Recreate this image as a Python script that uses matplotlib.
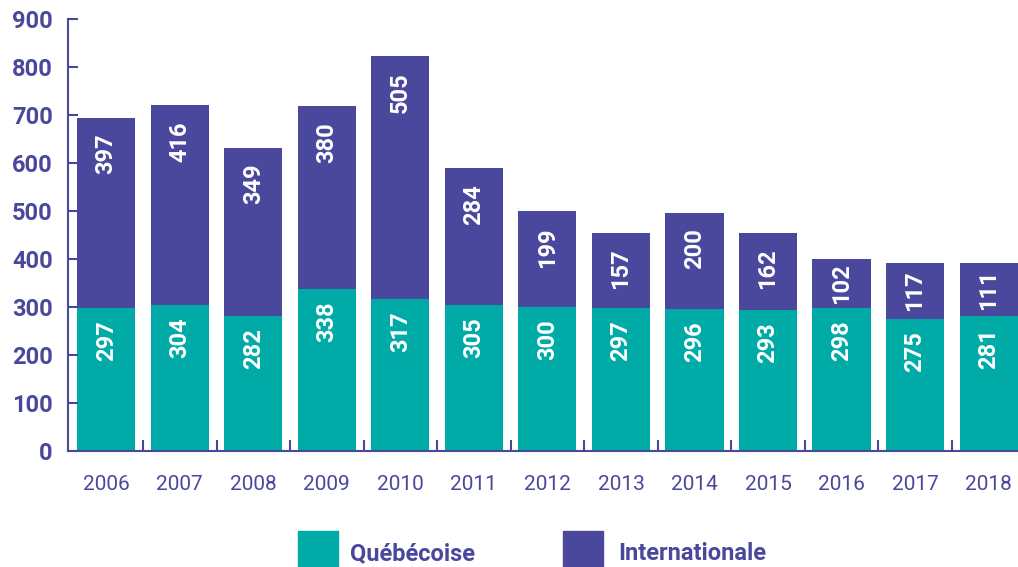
import matplotlib
matplotlib.use("Agg")
import matplotlib.pyplot as plt
from matplotlib.patches import Rectangle

years = ["2006", "2007", "2008", "2009", "2010", "2011", "2012",
         "2013", "2014", "2015", "2016", "2017", "2018"]
quebecoise = [297, 304, 282, 338, 317, 305, 300, 297, 296, 293, 298, 275, 281]
internationale = [397, 416, 349, 380, 505, 284, 199, 157, 200, 162, 102, 117, 111]

teal = "#00AAA6"
purple = "#4A489C"
plt.rcParams['font.family'] = ['Roboto', 'DejaVu Sans']

fig = plt.figure(figsize=(10.18, 5.67), dpi=100)
ax = fig.add_axes([68 / 1018, 1 - 451 / 567, 1 - 68 / 1018, (451 - 19) / 567])

x = range(len(years))
w = 0.79
ax.bar(x, quebecoise, width=w, color=teal)
ax.bar(x, internationale, width=w, bottom=quebecoise, color=purple)

# labels sit near the top of each segment (centred when the segment is short)
for i in x:
    q = quebecoise[i]
    n = internationale[i]
    ax.text(i, q - min(q / 2, 68), str(q), rotation=90, ha='center',
            va='center', color='white', fontsize=17, fontweight='bold')
    ax.text(i, q + n - min(n / 2, 75), str(n), rotation=90, ha='center',
            va='center', color='white', fontsize=17, fontweight='bold')

ax.set_xlim(-0.52, 12.4)
ax.set_ylim(0, 900)
for s in ['top', 'right']:
    ax.spines[s].set_visible(False)
for s in ['left', 'bottom']:
    ax.spines[s].set_color(purple)
    ax.spines[s].set_linewidth(1.5)

ax.set_yticks(range(0, 901, 100))
ax.tick_params(axis='y', direction='in', length=7, width=1.5, color=purple,
               labelcolor=purple, labelsize=17, pad=11)
for lab in ax.get_yticklabels():
    lab.set_fontweight('bold')

ax.set_xticks(list(x))
ax.set_xticklabels(years)
ax.tick_params(axis='x', which='major', length=0, labelcolor=purple,
               labelsize=15, pad=17)
ax.set_xticks([i + 0.5 for i in range(12)], minor=True)
ax.tick_params(axis='x', which='minor', direction='in', length=8, width=1.5,
               color=purple)

# legend
fig.patches.append(Rectangle((298 / 1018, 0), 40 / 1018, 36 / 567,
                             transform=fig.transFigure, color=teal))
fig.patches.append(Rectangle((563 / 1018, 0), 40 / 1018, 36 / 567,
                             transform=fig.transFigure, color=purple))
fig.text(350 / 1018, 1 - 554 / 567, "Québécoise", color=purple, fontsize=17,
         fontweight='bold', va='center')
fig.text(618 / 1018, 1 - 554 / 567, "Internationale", color=purple,
         fontsize=17, fontweight='bold', va='center')

fig.savefig("out.png", dpi=100)
